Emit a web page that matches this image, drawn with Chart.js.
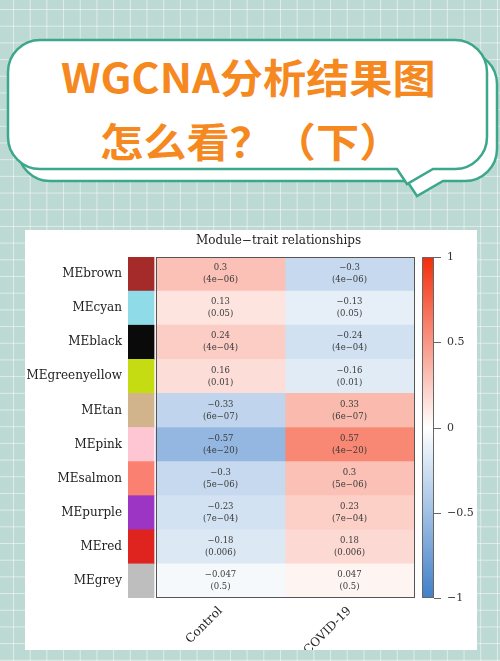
<!DOCTYPE html>
<html>
<head>
<meta charset="utf-8">
<script src="https://cdn.jsdelivr.net/npm/chart.js@4.4.1/dist/chart.umd.min.js"></script>
<style>
  html, body { margin: 0; padding: 0; }
  body {
    width: 500px; height: 661px; overflow: hidden; position: relative;
    background-color: #bdd9d3;
    background-image:
      linear-gradient(to right, rgba(255,255,255,0.5) 1px, transparent 1px),
      linear-gradient(to bottom, rgba(255,255,255,0.5) 1px, transparent 1px);
    background-size: 16.7px 16.7px;
    background-position: 13px 9px;
  }
  #bubble { position: absolute; left: 0; top: 0; }
  .headline {
    position: absolute; font-family: "Noto Sans CJK SC"; font-weight: 700;
    color: #f5891f; font-size: 40px; line-height: 1; white-space: pre;
    transform: scaleX(1.08); transform-origin: left top;
  }
  #panel { position: absolute; left: 25px; top: 230px; width: 452px; height: 420px; background: #fff; }
</style>
</head>
<body>

<svg id="bubble" width="500" height="230">
  <!-- back bubble -->
  <path d="M50 52 H465 A32 32 0 0 1 497 84 V149 A32 32 0 0 1 465 181 H443 L417 196 L407 181 H50 A32 32 0 0 1 18 149 V84 A32 32 0 0 1 50 52 Z"
        fill="#fff" stroke="#3ca78b" stroke-width="2.5"/>
  <!-- front bubble -->
  <path d="M40 40 H455 A32 32 0 0 1 487 72 V137 A32 32 0 0 1 455 169 H433 L407 184 L397 169 H40 A32 32 0 0 1 8 137 V72 A32 32 0 0 1 40 40 Z"
        fill="#fff" stroke="#3ca78b" stroke-width="2.5"/>
</svg>
<div class="headline" style="left:61px; top:56px;">WGCNA分析结果图</div>
<div class="headline" style="left:100px; top:120px;">怎么看？（下）</div>

<div id="panel"><canvas id="heatmap" width="452" height="420"></canvas></div>

<script>
// ---- data ----
const modules = ["MEbrown", "MEcyan", "MEblack", "MEgreenyellow", "MEtan", "MEpink", "MEsalmon", "MEpurple", "MEred", "MEgrey"];
const moduleColors = ["#a52a2a", "#8fdbe8", "#0a0a0a", "#c6dc12", "#d2b48c", "#fdc6d2", "#fa8072", "#9c34c4", "#df2420", "#bebebe"];
const traits = ["Control", "COVID-19"];
const controlCor = [0.3, 0.13, 0.24, 0.16, -0.33, -0.57, -0.3, -0.23, -0.18, -0.047];
const controlP = ["4e−06", "0.05", "4e−04", "0.01", "6e−07", "4e−20", "5e−06", "7e−04", "0.006", "0.5"];
const covidCor = [-0.3, -0.13, -0.24, -0.16, 0.33, 0.57, 0.3, 0.23, 0.18, 0.047];
const covidP = ["4e−06", "0.05", "4e−04", "0.01", "6e−07", "4e−20", "5e−06", "7e−04", "0.006", "0.5"];
const colorTicks = [1, 0.5, 0, -0.5, -1];

const X_MIN = -0.217;   // left edge of the module colour column
const SERIF = '"DejaVu Serif", serif';

// blue - white - red scale
function corColor(v) {
  const end = v >= 0 ? [243, 45, 10] : [65, 128, 200];
  const t = Math.min(1, Math.abs(v));
  const c = end.map(e => Math.round(255 + (e - 255) * t));
  return "rgb(" + c.join(",") + ")";
}

const fmt = v => (v < 0 ? "−" : "") + Math.abs(v);

// cell texts, frame, title, colour bar
const heatmapExtras = {
  id: "heatmapExtras",
  afterDatasetsDraw(chart) {
    const { ctx, chartArea, scales: { x } } = chart;
    ctx.save();

    ctx.font = "8.5px " + SERIF;
    ctx.fillStyle = "#3a3a3a";
    ctx.textAlign = "center";
    ctx.textBaseline = "middle";
    [[1, controlCor, controlP], [2, covidCor, covidP]].forEach(([di, cors, ps]) => {
      chart.getDatasetMeta(di).data.forEach((el, i) => {
        const p = el.getProps(["x", "y", "base"], true);
        const cx = (p.x + p.base) / 2;
        ctx.fillText(fmt(cors[i]), cx, p.y - 6);
        ctx.fillText("(" + ps[i] + ")", cx, p.y + 6);
      });
    });

    // frame round the grid
    const gl = x.getPixelForValue(0), gr = x.getPixelForValue(2);
    ctx.strokeStyle = "#555";
    ctx.lineWidth = 1;
    ctx.strokeRect(Math.round(gl) + 0.5, chartArea.top + 0.5, Math.round(gr - gl), chartArea.bottom - chartArea.top - 1);

    // title
    ctx.font = "12px " + SERIF;
    ctx.fillStyle = "#222";
    ctx.fillText("Module−trait relationships", (x.getPixelForValue(-0.1) + gr) / 2, chartArea.top - 16);

    // colour bar
    const bx = chartArea.right + 8, bw = 12;
    const top = chartArea.top, bottom = chartArea.bottom;
    const cb = v => bottom - (v + 1) / 2 * (bottom - top);
    const grad = ctx.createLinearGradient(0, cb(-1), 0, cb(1));
    for (let k = 0; k <= 20; k++) grad.addColorStop(k / 20, corColor(-1 + k / 10));
    ctx.fillStyle = grad;
    ctx.fillRect(bx, top, bw, bottom - top);
    ctx.strokeStyle = "#666";
    ctx.strokeRect(bx + 0.5, top + 0.5, bw - 1, bottom - top - 1);

    ctx.font = "11px " + SERIF;
    ctx.fillStyle = "#333";
    ctx.textAlign = "left";
    colorTicks.forEach(v => {
      const ty = Math.round(cb(v)) + 0.5;
      ctx.beginPath();
      ctx.moveTo(bx + bw, ty);
      ctx.lineTo(bx + bw + 7, ty);
      ctx.stroke();
      ctx.fillText(fmt(v), bx + bw + 13, ty);
    });

    ctx.restore();
  }
};

new Chart(document.getElementById("heatmap"), {
  type: "bar",
  data: {
    labels: modules,
    datasets: [
      { label: "module", data: modules.map(() => [X_MIN, -0.015]), backgroundColor: moduleColors },
      { label: traits[0], data: controlCor.map(() => [0, 1]), backgroundColor: controlCor.map(corColor) },
      { label: traits[1], data: covidCor.map(() => [1, 2]), backgroundColor: covidCor.map(corColor) }
    ]
  },
  options: {
    indexAxis: "y",
    responsive: false,
    animation: false,
    layout: { padding: { top: 27, right: 63, left: 0, bottom: 0 } },
    datasets: { bar: { categoryPercentage: 1, barPercentage: 1, borderWidth: 0, stack: "cells" } },
    plugins: { legend: { display: false }, tooltip: { enabled: false } },
    scales: {
      y: {
        stacked: true,
        grid: { display: false, drawTicks: false },
        border: { display: false },
        ticks: { padding: 6, color: "#222", font: { family: SERIF, size: 12 } },
        afterFit: s => { s.width = 103; }
      },
      x: {
        stacked: false,
        min: X_MIN,
        max: 2,
        grid: { display: false, drawTicks: false },
        border: { display: false },
        afterBuildTicks: s => { s.ticks = [{ value: 0.5 }, { value: 1.5 }]; },
        ticks: {
          callback: (v, i) => traits[i],
          minRotation: 45, maxRotation: 45, padding: 6,
          color: "#222", font: { family: SERIF, size: 12 }
        },
        afterFit: s => { s.height = 52; }
      }
    }
  },
  plugins: [heatmapExtras]
});
</script>
</body>
</html>
